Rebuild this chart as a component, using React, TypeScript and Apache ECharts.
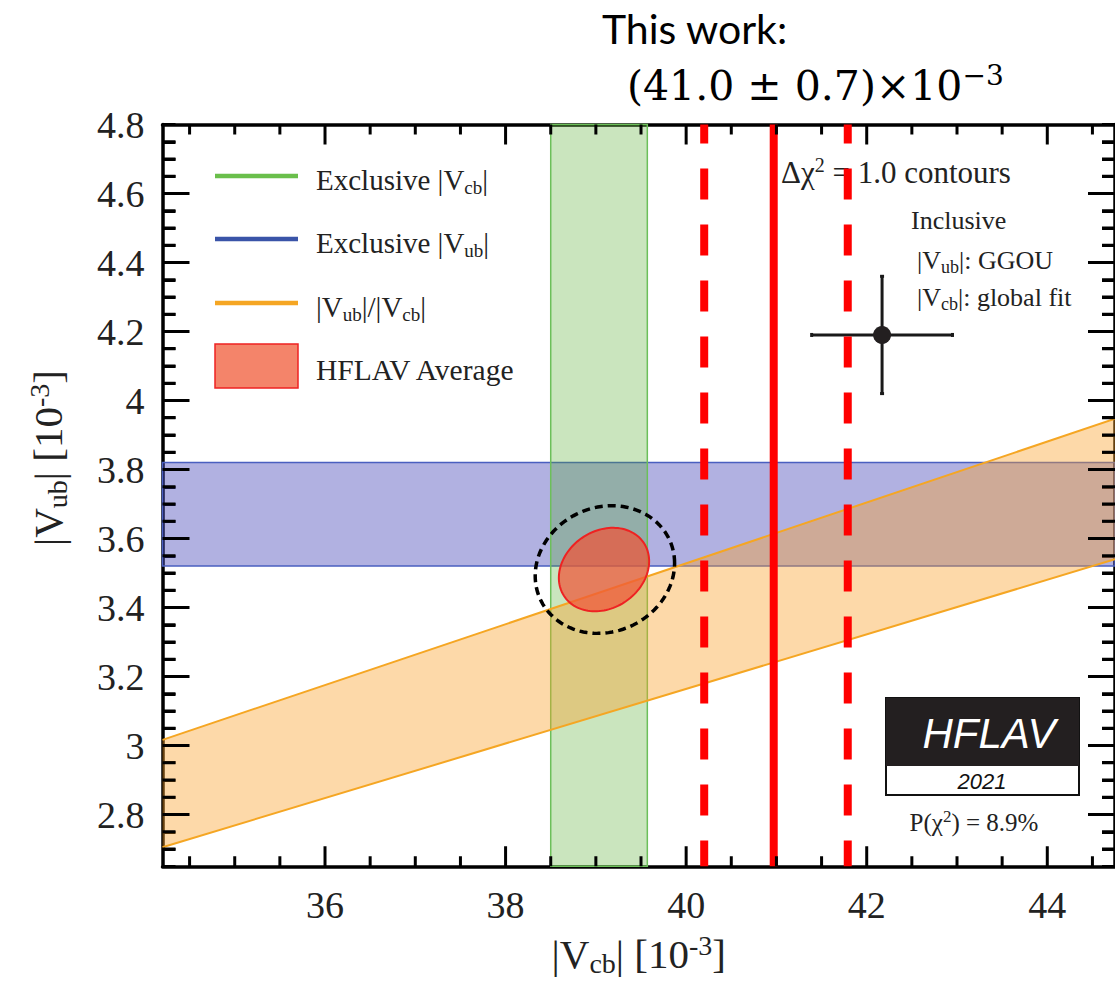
import React, { useEffect, useRef } from "react";
import * as echarts from "echarts";

// ---- axis ranges & ticks ----
const X_MIN = 34.2;
const X_MAX = 44.75;
const Y_MIN = 2.65;
const Y_MAX = 4.8;
const xMajorTicks = [36, 38, 40, 42, 44];
const xMinorTicks = [34.5, 35, 35.5, 36.5, 37, 37.5, 38.5, 39, 39.5, 40.5, 41, 41.5, 42.5, 43, 43.5, 44.5];
const yMajorTicks = [2.8, 3, 3.2, 3.4, 3.6, 3.8, 4, 4.2, 4.4, 4.6];
const yMinorTicks = [
  2.7, 2.75, 2.85, 2.9, 2.95, 3.05, 3.1, 3.15, 3.25, 3.3, 3.35, 3.45, 3.5, 3.55,
  3.65, 3.7, 3.75, 3.85, 3.9, 3.95, 4.05, 4.1, 4.15, 4.25, 4.3, 4.35, 4.45, 4.5,
  4.55, 4.65, 4.7, 4.75,
];
const yLabelValues = [2.8, 3, 3.2, 3.4, 3.6, 3.8, 4, 4.2, 4.4, 4.6, 4.8];
const Y_MINOR_STEP = 0.05;

// ---- data ----
const excVcbBand = [38.5, 39.57]; // exclusive |Vcb| (x range)
const excVubBand = [3.52, 3.82]; // exclusive |Vub| (y range)
const ratioBand = [0.0791, 0.0882]; // |Vub|/|Vcb| slopes (lo, hi)
const hflavCenter = [39.09, 3.51];
const hflavSigma = [0.5, 0.121];
const hflavRho = 0.2;
const contourCenter = [39.1, 3.51];
const contourSigma = [0.772, 0.185];
const contourRho = 0.1;
const thisWork = [40.2, 40.97, 41.79]; // low, central, high
const inclusivePoint = [42.17, 4.19];
const inclusiveErr = [0.78, 0.17];

const SERIF = "Liberation Serif";
const TXT = "#222";

const GRID = { left: 162.5, top: 124.5, width: 961.5, height: 741.75 };

function ellipsePts(c: number[], s: number[], rho: number, n = 120) {
  const d = Math.acos(rho);
  const pts: number[][] = [];
  for (let i = 0; i < n; i++) {
    const t = (i / n) * Math.PI * 2;
    pts.push([c[0] + s[0] * Math.cos(t), c[1] + s[1] * Math.cos(t - d)]);
  }
  return pts;
}

const subStyle = (size: number, pad: number) => ({
  fontSize: size,
  fontFamily: SERIF,
  color: TXT,
  padding: [pad, 0, 0, 0],
});
const supStyle = (size: number, pad: number) => ({
  fontSize: size,
  fontFamily: SERIF,
  color: TXT,
  padding: [0, 0, pad, 0],
});

function buildGraphic(): any[] {
  const legendRows = [
    { y: 176, color: "#6abf4b", text: "Exclusive |V{sub|cb}|" },
    { y: 239, color: "#3a54a8", text: "Exclusive |V{sub|ub}|" },
    { y: 303, color: "#f5a623", text: "|V{sub|ub}|/|V{sub|cb}|" },
  ];
  const legRich = { sub: subStyle(19, 15), sup: supStyle(19, 12) };
  const graphic: any[] = [];
  legendRows.forEach((r) => {
    graphic.push({
      type: "line",
      z: 20,
      shape: { x1: 215, y1: r.y, x2: 298, y2: r.y },
      style: { stroke: r.color, lineWidth: 4.5 },
    });
    graphic.push({
      type: "text",
      z: 20,
      x: 316,
      y: r.y + 4,
      style: {
        text: r.text,
        fontSize: 29,
        fontFamily: SERIF,
        fill: TXT,
        verticalAlign: "middle",
        align: "left",
        rich: legRich,
      },
    });
  });
  graphic.push({
    type: "rect",
    z: 20,
    shape: { x: 215, y: 344, width: 83, height: 44 },
    style: { fill: "#f4846a", stroke: "#ee2222", lineWidth: 1.5 },
  });
  graphic.push({
    type: "text",
    z: 20,
    x: 316,
    y: 370,
    style: { text: "HFLAV Average", fontSize: 29.5, fontFamily: SERIF, fill: TXT, verticalAlign: "middle", align: "left" },
  });
  graphic.push({
    type: "text",
    z: 20,
    x: 48,
    y: 458,
    rotation: Math.PI / 2,
    style: {
      text: "|V{sub|ub}| [10{sup|-3}]",
      fontSize: 41,
      fontFamily: SERIF,
      fill: TXT,
      align: "center",
      verticalAlign: "middle",
      rich: { sub: subStyle(28, 19), sup: supStyle(28, 17) },
    },
  });
  graphic.push({
    type: "text",
    z: 0,
    x: 781,
    y: 172,
    style: {
      text: "Δχ{sup|2} = 1.0 contours",
      fontSize: 31,
      fontFamily: SERIF,
      fill: TXT,
      verticalAlign: "middle",
      align: "left",
      rich: { sup: supStyle(20, 15) },
    },
  });
  graphic.push({
    type: "text",
    z: 0,
    x: 911,
    y: 220,
    style: { text: "Inclusive", fontSize: 26, fontFamily: SERIF, fill: TXT, verticalAlign: "middle", align: "left" },
  });
  graphic.push({
    type: "text",
    z: 0,
    x: 917,
    y: 260,
    style: {
      text: "|V{sub|ub}|: GGOU",
      fontSize: 26,
      fontFamily: SERIF,
      fill: TXT,
      verticalAlign: "middle",
      align: "left",
      rich: { sub: subStyle(18, 14) },
    },
  });
  graphic.push({
    type: "text",
    z: 0,
    x: 917,
    y: 297,
    style: {
      text: "|V{sub|cb}|: global fit",
      fontSize: 26,
      fontFamily: SERIF,
      fill: TXT,
      verticalAlign: "middle",
      align: "left",
      rich: { sub: subStyle(18, 14) },
    },
  });
  graphic.push({
    type: "rect",
    z: 20,
    shape: { x: 886, y: 698, width: 193, height: 97 },
    style: { fill: "#fff", stroke: "#111", lineWidth: 2 },
  });
  graphic.push({
    type: "rect",
    z: 21,
    shape: { x: 886, y: 698, width: 193, height: 68 },
    style: { fill: "#231f20" },
  });
  graphic.push({
    type: "text",
    z: 22,
    x: 989,
    y: 733,
    style: {
      text: "HFLAV",
      fontSize: 42,
      fontStyle: "italic",
      fontFamily: "Liberation Sans",
      fill: "#fff",
      align: "center",
      verticalAlign: "middle",
    },
  });
  graphic.push({
    type: "text",
    z: 22,
    x: 982,
    y: 781,
    style: {
      text: "2021",
      fontSize: 22,
      fontStyle: "italic",
      fontFamily: "Liberation Sans",
      fill: "#111",
      align: "center",
      verticalAlign: "middle",
    },
  });
  graphic.push({
    type: "text",
    z: 22,
    x: 974,
    y: 822,
    style: {
      text: "P(χ{sup|2}) = 8.9%",
      fontSize: 25,
      fontFamily: SERIF,
      fill: TXT,
      align: "center",
      verticalAlign: "middle",
      rich: { sup: supStyle(17, 12) },
    },
  });
  graphic.push({
    type: "text",
    z: 30,
    x: 602,
    y: 28,
    style: { text: "This work:", fontSize: 41, fontFamily: "Lato", fill: "#000", align: "left", verticalAlign: "middle" },
  });
  graphic.push({
    type: "text",
    z: 30,
    x: 627,
    y: 86,
    style: {
      text: "(41.0 ± 0.7)×10{sup|−3}",
      fontSize: 41,
      fontFamily: "DejaVu Serif",
      fill: "#000",
      align: "left",
      verticalAlign: "middle",
      rich: { sup: { fontSize: 28, fontFamily: "DejaVu Serif", color: "#000", padding: [0, 0, 22, 0] } },
    },
  });
  return graphic;
}

// frame ticks as thin filled rects, positioned via the chart's axis scales
function buildTicks(chart: any): any[] {
  const toPx = (p: number[]) => {
    let r: any = null;
    try {
      r = chart.convertToPixel({ gridIndex: 0 }, p);
    } catch (e) {
      r = null;
    }
    if (!r || !isFinite(r[0]) || !isFinite(r[1])) {
      r = [
        GRID.left + ((p[0] - X_MIN) / (X_MAX - X_MIN)) * GRID.width,
        GRID.top + ((Y_MAX - p[1]) / (Y_MAX - Y_MIN)) * GRID.height,
      ];
    }
    return r as number[];
  };
  const els: any[] = [];
  const rect = (x: number, y: number, w: number, h: number) =>
    els.push({ type: "rect", z: 40, shape: { x, y, width: w, height: h }, style: { fill: "#000" } });
  const W = 3;
  const xt = (v: number, len: number) => {
    const b = toPx([v, Y_MIN]);
    const t = toPx([v, Y_MAX]);
    rect(b[0] - W / 2, b[1] - len, W, len);
    rect(t[0] - W / 2, t[1], W, len);
  };
  const yt = (v: number, len: number) => {
    const l = toPx([X_MIN, v]);
    const r = toPx([X_MAX, v]);
    rect(l[0], l[1] - W / 2, len, W);
    rect(r[0] - len, r[1] - W / 2, len, W);
  };
  xMajorTicks.forEach((v) => xt(v, 20));
  xMinorTicks.forEach((v) => xt(v, 10));
  yMajorTicks.forEach((v) => yt(v, 27));
  yMinorTicks.forEach((v) => yt(v, 13));
  return els;
}

function buildOption(graphic: any[]): any {
  const frameLine = { show: true, lineStyle: { color: "#000", width: 3.5 } };
  const xAxes = [
    {
      type: "value",
      min: X_MIN,
      max: X_MAX,
      position: "bottom",
      splitLine: { show: false },
      axisLine: frameLine,
      axisTick: { show: false },
      axisLabel: {
        show: true,
        customValues: xMajorTicks,
        fontSize: 38,
        fontFamily: SERIF,
        color: TXT,
        margin: 20,
      },
      name: "|V{sub|cb}| [10{sup|-3}]",
      nameLocation: "middle",
      nameGap: 64,
      nameTextStyle: {
        fontSize: 41,
        fontFamily: SERIF,
        color: TXT,
        rich: { sub: subStyle(28, 19), sup: supStyle(28, 17) },
      },
    },
    {
      type: "value",
      min: X_MIN,
      max: X_MAX,
      position: "top",
      splitLine: { show: false },
      axisLine: frameLine,
      axisTick: { show: false },
      axisLabel: { show: false },
    },
  ];
  const yAxes = [
    {
      type: "value",
      min: Y_MIN,
      max: Y_MAX,
      position: "left",
      splitLine: { show: false },
      axisLine: frameLine,
      axisTick: { show: false },
      axisLabel: {
        show: true,
        customValues: yLabelValues,
        fontSize: 38,
        fontFamily: SERIF,
        color: TXT,
        margin: 18,
      },
    },
    {
      type: "value",
      min: Y_MIN,
      max: Y_MAX,
      position: "right",
      splitLine: { show: false },
      axisLine: frameLine,
      axisTick: { show: false },
      axisLabel: { show: false },
    },
    {
      type: "value",
      min: Y_MIN,
      max: Y_MAX,
      interval: Y_MINOR_STEP,
      position: "left",
      splitLine: { show: false },
      axisLine: { show: false },
      axisTick: { show: true, inside: true, length: 13, lineStyle: { color: "#000", width: 3 } },
      axisLabel: { show: false },
    },
    {
      type: "value",
      min: Y_MIN,
      max: Y_MAX,
      interval: Y_MINOR_STEP,
      position: "right",
      splitLine: { show: false },
      axisLine: { show: false },
      axisTick: { show: true, inside: true, length: 13, lineStyle: { color: "#000", width: 3 } },
      axisLabel: { show: false },
    },
  ];

  const series: any[] = [
    {
      type: "custom",
      z: 1,
      silent: true,
      data: [[X_MIN, excVubBand[0], X_MAX, excVubBand[1]]],
      renderItem: (_p: any, api: any) => {
        const a = api.coord([api.value(0), api.value(3)]);
        const b = api.coord([api.value(2), api.value(1)]);
        return {
          type: "rect",
          shape: { x: a[0], y: a[1], width: b[0] - a[0], height: b[1] - a[1] },
          style: { fill: "rgba(60,60,180,0.4)", stroke: "#4a5fc0", lineWidth: 1.5 },
        };
      },
    },
    {
      type: "custom",
      z: 2,
      silent: true,
      data: [[excVcbBand[0], Y_MIN, excVcbBand[1], Y_MAX]],
      renderItem: (_p: any, api: any) => {
        const a = api.coord([api.value(0), api.value(3)]);
        const b = api.coord([api.value(2), api.value(1)]);
        return {
          type: "rect",
          shape: { x: a[0], y: a[1], width: b[0] - a[0], height: b[1] - a[1] },
          style: { fill: "rgba(80,170,40,0.3)", stroke: "#6cbf5a", lineWidth: 1.5 },
        };
      },
    },
    {
      type: "custom",
      z: 3,
      silent: true,
      data: [[ratioBand[0], ratioBand[1]]],
      renderItem: (_p: any, api: any) => {
        const lo = api.value(0);
        const hi = api.value(1);
        const p1 = api.coord([X_MIN, lo * X_MIN]);
        const p2 = api.coord([X_MAX, lo * X_MAX]);
        const p3 = api.coord([X_MAX, hi * X_MAX]);
        const p4 = api.coord([X_MIN, hi * X_MIN]);
        return {
          type: "group",
          children: [
            { type: "polygon", shape: { points: [p1, p2, p3, p4] }, style: { fill: "rgba(250,160,40,0.4)" } },
            { type: "line", shape: { x1: p1[0], y1: p1[1], x2: p2[0], y2: p2[1] }, style: { stroke: "#f5a623", lineWidth: 2 } },
            { type: "line", shape: { x1: p4[0], y1: p4[1], x2: p3[0], y2: p3[1] }, style: { stroke: "#f5a623", lineWidth: 2 } },
          ],
        };
      },
    },
    {
      type: "custom",
      z: 4,
      silent: true,
      data: [hflavCenter],
      renderItem: (_p: any, api: any) => {
        const pts = ellipsePts([api.value(0), api.value(1)], hflavSigma, hflavRho).map((p) => api.coord(p));
        return {
          type: "polygon",
          shape: { points: pts },
          style: { fill: "rgba(240,85,55,0.72)", stroke: "#ee2222", lineWidth: 2 },
        };
      },
    },
    {
      type: "custom",
      z: 5,
      silent: true,
      data: [contourCenter],
      renderItem: (_p: any, api: any) => {
        const pts = ellipsePts([api.value(0), api.value(1)], contourSigma, contourRho).map((p) => api.coord(p));
        return {
          type: "polygon",
          shape: { points: pts },
          style: { fill: "none", stroke: "#000", lineWidth: 3.5, lineDash: [8, 5] },
        };
      },
    },
    {
      type: "custom",
      z: 6,
      silent: true,
      data: [[inclusivePoint[0], inclusivePoint[1], inclusiveErr[0], inclusiveErr[1]]],
      renderItem: (_p: any, api: any) => {
        const x = api.value(0);
        const y = api.value(1);
        const ex = api.value(2);
        const ey = api.value(3);
        const c = api.coord([x, y]);
        const l = api.coord([x - ex, y]);
        const r = api.coord([x + ex, y]);
        const t = api.coord([x, y + ey]);
        const b = api.coord([x, y - ey]);
        const st = { stroke: "#1a1a1a", lineWidth: 3 };
        return {
          type: "group",
          children: [
            { type: "line", shape: { x1: l[0], y1: l[1], x2: r[0], y2: r[1] }, style: st },
            { type: "line", shape: { x1: t[0], y1: t[1], x2: b[0], y2: b[1] }, style: st },
            { type: "line", shape: { x1: l[0], y1: l[1] - 2, x2: l[0], y2: l[1] + 2 }, style: st },
            { type: "line", shape: { x1: r[0], y1: r[1] - 2, x2: r[0], y2: r[1] + 2 }, style: st },
            { type: "line", shape: { x1: t[0] - 2, y1: t[1], x2: t[0] + 2, y2: t[1] }, style: st },
            { type: "line", shape: { x1: b[0] - 2, y1: b[1], x2: b[0] + 2, y2: b[1] }, style: st },
            { type: "circle", shape: { cx: c[0], cy: c[1], r: 9 }, style: { fill: "#231f20" } },
          ],
        };
      },
    },
    {
      type: "custom",
      z: 10,
      silent: true,
      data: thisWork.map((v) => [v]),
      renderItem: (p: any, api: any) => {
        const x = api.value(0);
        const a = api.coord([x, Y_MAX]);
        const b = api.coord([x, Y_MIN]);
        const central = p.dataIndex === 1;
        return {
          type: "line",
          shape: { x1: a[0], y1: a[1], x2: b[0], y2: b[1] },
          style: central
            ? { stroke: "#ff0000", lineWidth: 8 }
            : { stroke: "#ff0000", lineWidth: 8, lineDash: [31, 25], lineDashOffset: 12 },
        };
      },
    },
  ];

  return {
    animation: false,
    backgroundColor: "#fff",
    grid: { ...GRID, containLabel: false },
    xAxis: xAxes,
    yAxis: yAxes,
    series,
    graphic,
  };
}

export default function App() {
  const ref = useRef<HTMLDivElement>(null);
  useEffect(() => {
    if (!ref.current) return;
    const chart = echarts.init(ref.current, null, { renderer: "svg" });
    const graphic = buildGraphic();
    chart.setOption(buildOption(graphic));
    const ticks = buildTicks(chart);
    chart.setOption({ graphic: [...graphic, ...ticks] });
    return () => chart.dispose();
  }, []);
  return (
    <div
      ref={ref}
      style={{ position: "absolute", left: 0, top: 0, width: 1115, height: 990, background: "#fff" }}
    />
  );
}
